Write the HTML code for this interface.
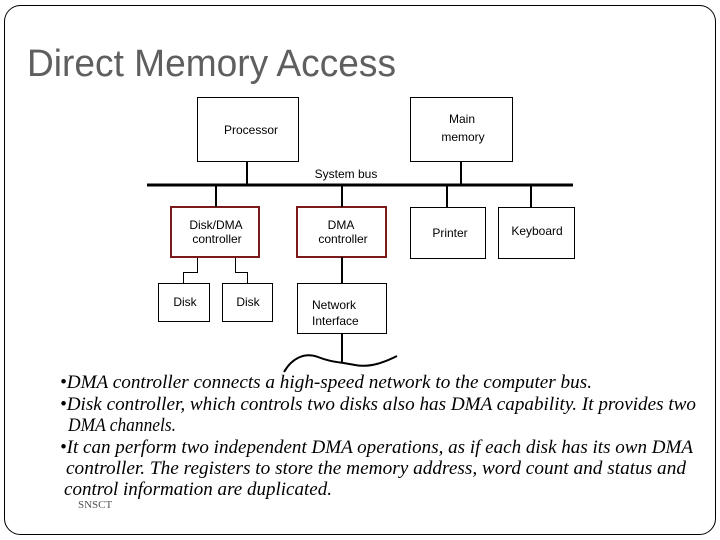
<!DOCTYPE html>
<html><head><meta charset="utf-8"><style>
html,body{margin:0;padding:0;background:#fff;}
svg{display:block;}
.b{font-family:"Liberation Sans",sans-serif;font-size:12px;fill:#000;}
.t{font-family:"Liberation Serif",serif;font-style:italic;font-size:18.5px;fill:#000;}
</style></head><body>
<svg width="720" height="540" viewBox="0 0 720 540" xmlns="http://www.w3.org/2000/svg">
<rect x="4.5" y="5.5" width="711" height="529" rx="16" fill="#fff" stroke="#000" stroke-width="1"/>
<text x="27" y="76" font-family="Liberation Sans,sans-serif" font-size="38" fill="#5f5f5f" textLength="369" lengthAdjust="spacingAndGlyphs">Direct Memory Access</text>
<g fill="none" stroke="#000" stroke-width="1">
<rect x="197.5" y="97.5" width="101" height="64"/>
<rect x="410.5" y="97.5" width="102" height="64"/>
<rect x="410.5" y="207.5" width="75" height="51"/>
<rect x="498.5" y="207.5" width="76" height="51"/>
<rect x="158.5" y="283.5" width="51" height="38"/>
<rect x="222.5" y="283.5" width="50" height="38"/>
<rect x="297.5" y="283.5" width="89" height="50"/>
<polyline points="197.5,257 197.5,272.5 183.5,272.5 183.5,283"/>
<polyline points="235.5,257 235.5,272.5 247.5,272.5 247.5,283"/>
</g>
<g fill="none" stroke="#7a1a1a" stroke-width="2">
<rect x="171" y="207" width="88" height="50"/>
<rect x="297" y="207" width="89" height="50"/>
</g>
<g stroke="#000" stroke-width="2">
<line x1="147" y1="185" x2="573" y2="185" stroke-width="3"/>
<line x1="247" y1="161" x2="247" y2="185"/>
<line x1="461" y1="161" x2="461" y2="185"/>
<line x1="216" y1="185" x2="216" y2="207"/>
<line x1="342" y1="185" x2="342" y2="207"/>
<line x1="447" y1="185" x2="447" y2="207"/>
<line x1="531" y1="185" x2="531" y2="207"/>
<line x1="342" y1="257" x2="342" y2="283"/>
<line x1="342" y1="333" x2="342" y2="362"/>
</g>
<path d="M284,372 C292,358 305,352 318,357 C330,362 340,362 355,365 C370,368 385,362 397,356" fill="none" stroke="#000" stroke-width="2"/>
<text class="b" x="224" y="134">Processor</text>
<text class="b" x="462" y="123" text-anchor="middle">Main</text>
<text class="b" x="463" y="141" text-anchor="middle">memory</text>
<text class="b" x="346" y="178" text-anchor="middle">System bus</text>
<text class="b" x="216" y="229" text-anchor="middle">Disk/DMA</text>
<text class="b" x="217" y="243" text-anchor="middle">controller</text>
<text class="b" x="341" y="229" text-anchor="middle">DMA</text>
<text class="b" x="343" y="243" text-anchor="middle">controller</text>
<text class="b" x="450" y="237" text-anchor="middle">Printer</text>
<text class="b" x="537" y="235" text-anchor="middle">Keyboard</text>
<text class="b" x="185" y="306" text-anchor="middle">Disk</text>
<text class="b" x="248" y="306" text-anchor="middle">Disk</text>
<text class="b" x="312" y="309">Network</text>
<text class="b" x="312" y="325">Interface</text>
<text class="t" x="60" y="388" textLength="532" lengthAdjust="spacingAndGlyphs">•DMA controller connects a high-speed network to the computer bus.</text>
<text class="t" x="60" y="410" textLength="636" lengthAdjust="spacingAndGlyphs">•Disk controller, which controls two disks also has DMA capability. It provides two</text>
<text class="t" x="68" y="431" textLength="108" lengthAdjust="spacingAndGlyphs">DMA channels.</text>
<text class="t" x="60" y="453" textLength="633" lengthAdjust="spacingAndGlyphs">•It can perform two independent DMA operations, as if each disk has its own DMA</text>
<text class="t" x="66" y="474" textLength="620" lengthAdjust="spacingAndGlyphs">controller. The registers to store the memory address, word count and status and</text>
<text class="t" x="64" y="495" textLength="268" lengthAdjust="spacingAndGlyphs">control information are duplicated.</text>
<text x="78" y="508" font-family="Liberation Serif,serif" font-size="11" fill="#555">SNSCT</text>
</svg>
</body></html>
